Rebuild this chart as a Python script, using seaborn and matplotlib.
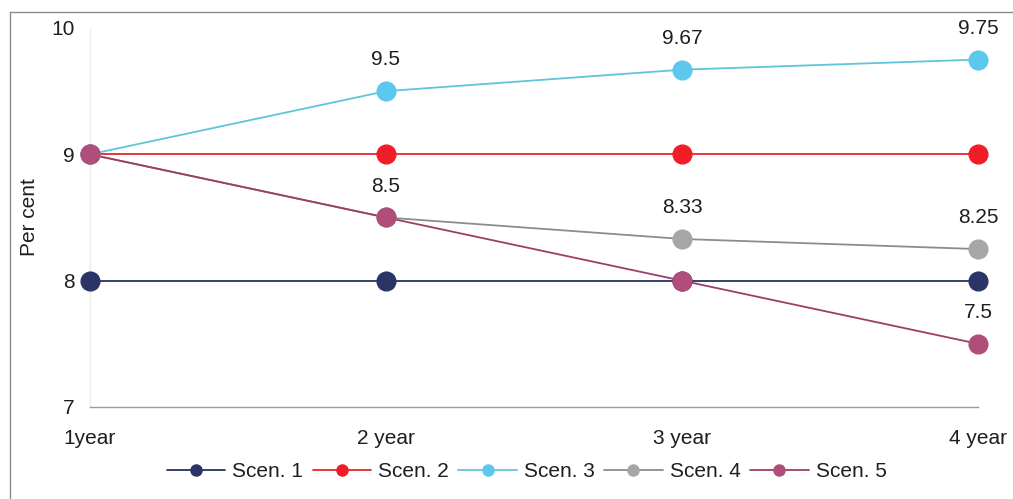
import matplotlib
matplotlib.use("Agg")
import matplotlib.pyplot as plt
from matplotlib.lines import Line2D
import pandas as pd
import seaborn as sns

# Data
horizons = ["1year", "2 year", "3 year", "4 year"]
scenarios = ["Scen. 1", "Scen. 2", "Scen. 3", "Scen. 4", "Scen. 5"]
scen1 = [8.0, 8.0, 8.0, 8.0]
scen2 = [9.0, 9.0, 9.0, 9.0]
scen3 = [9.0, 9.5, 9.67, 9.75]
scen4 = [9.0, 8.5, 8.33, 8.25]
scen5 = [9.0, 8.5, 8.0, 7.5]
series = [scen1, scen2, scen3, scen4, scen5]

# Which points carry a value label
labelled = {
    "Scen. 3": [1, 2, 3],
    "Scen. 4": [1, 2, 3],
    "Scen. 5": [3],
}

line_colors = ["#273160", "#e8232b", "#5ec6d8", "#8c8c8c", "#9c3f68"]
marker_colors = ["#2a3566", "#ee1d27", "#5cc8ee", "#a6a6a6", "#b04d7b"]

rows = []
for name, vals in zip(scenarios, series):
    for i, v in enumerate(vals):
        rows.append({"horizon": i, "value": v, "scenario": name})
df = pd.DataFrame(rows)

sns.set_theme(style="white")
plt.rcParams["font.family"] = ["Liberation Sans", "DejaVu Sans"]

FS = 15
TXT = "#1e1e1e"

fig = plt.figure(figsize=(10.13, 4.99), dpi=100)
ax = fig.add_axes([0.0888, 0.1844, 0.8767, 0.7595])

sns.lineplot(
    data=df, x="horizon", y="value", hue="scenario",
    palette=dict(zip(scenarios, line_colors)),
    linewidth=1.3, legend=False, ax=ax, zorder=2,
)

# Markers drawn per scenario so later series sit on top
for k, (name, vals) in enumerate(zip(scenarios, series)):
    ax.plot(range(len(vals)), vals, linestyle="none", marker="o",
            markersize=13.5, markerfacecolor=marker_colors[k],
            markeredgecolor=marker_colors[k], clip_on=False, zorder=3 + k)
    for i in labelled.get(name, []):
        ax.annotate(f"{vals[i]:g}", xy=(i, vals[i]), xytext=(0, 22.5),
                    textcoords="offset points", ha="center", va="center",
                    fontsize=FS, color=TXT)

ax.set_xlim(0, 3)
ax.set_ylim(7, 10)
ax.set_xticks(range(len(horizons)))
ax.set_xticklabels(horizons)
ax.set_yticks([7, 8, 9, 10])
ax.set_yticklabels(["7", "8", "9", "10"])
ax.tick_params(axis="both", labelsize=FS, colors=TXT)
ax.tick_params(axis="x", length=0, pad=16)
ax.tick_params(axis="y", length=4, width=1, color="#dddddd", pad=7)
ax.set_xlabel("")
ax.set_ylabel("Per cent", fontsize=FS, color=TXT, labelpad=9)

for side in ["top", "right"]:
    ax.spines[side].set_visible(False)
ax.spines["left"].set_color("#ececec")
ax.spines["left"].set_linewidth(1.0)
ax.spines["bottom"].set_color("#9a9a9a")
ax.spines["bottom"].set_linewidth(1.0)

# Legend below the plot
handles = [
    Line2D([0], [0], color=line_colors[k], linewidth=1.3, marker="o",
           markersize=8, markerfacecolor=marker_colors[k],
           markeredgecolor=marker_colors[k])
    for k in range(len(scenarios))
]
fig.legend(handles, scenarios, loc="center", bbox_to_anchor=(0.52, 0.055),
           ncol=5, frameon=False, fontsize=FS, handlelength=2.8,
           handletextpad=0.35, columnspacing=0.45, labelcolor=TXT)

# Thin frame lines along the left and top of the figure
fig.add_artist(Line2D([0.0099, 0.0099], [0.0, 0.976], transform=fig.transFigure,
                      color="#8a8a8a", linewidth=1.0))
fig.add_artist(Line2D([0.0099, 1.0], [0.976, 0.976], transform=fig.transFigure,
                      color="#8a8a8a", linewidth=1.0))

fig.savefig("out.png", dpi=100, facecolor="white")
